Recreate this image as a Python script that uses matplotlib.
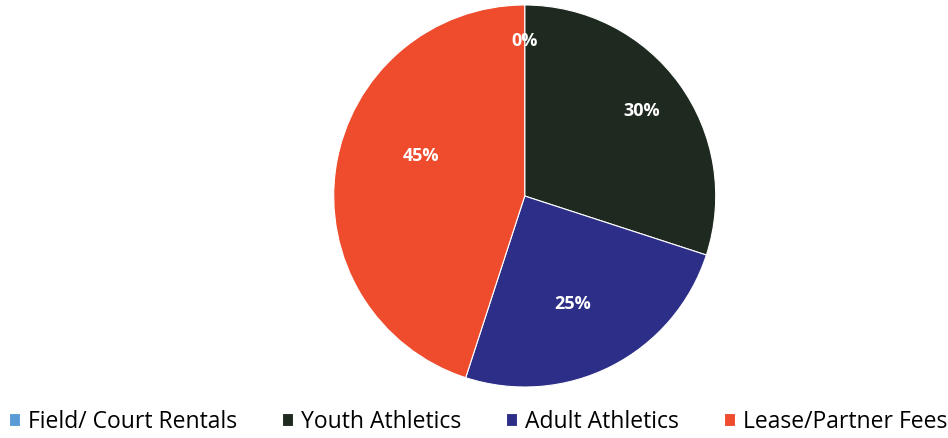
import matplotlib.pyplot as plt
import numpy as np

categories = ["Field/ Court Rentals", "Youth Athletics", "Adult Athletics", "Lease/Partner Fees"]
shares = [0.0, 30, 25, 45]
colors = ["#5b9bd5", "#1e291f", "#2c2e88", "#ef4b2d"]

# where each percentage label sits, as a fraction of the radius
label_dist = [0.81, 0.76, 0.62, 0.58]
label_shift = [0, 0, -3, -12]  # degrees

fig = plt.figure(figsize=(9.48, 4.38), dpi=100)
ax = fig.add_axes([0.350, 0.112, 0.407, 0.881])

wedges, texts, autotexts = ax.pie(
    shares, colors=colors, startangle=90, counterclock=False,
    autopct=lambda p: f"{p:.0f}%", pctdistance=0.7,
    wedgeprops=dict(edgecolor="white", linewidth=0.8),
    textprops=dict(color="white", fontsize=13, fontweight="bold", family="Open Sans"),
)

for w, t, d, s in zip(wedges, autotexts, label_dist, label_shift):
    ang = np.deg2rad((w.theta1 + w.theta2) / 2 + s)
    t.set_position((d * np.cos(ang), d * np.sin(ang)))
ax.set_xlim(-1.01, 1.01)
ax.set_ylim(-1.01, 1.01)
ax.set_aspect("equal")

fig.legend(wedges, categories, loc="lower left", bbox_to_anchor=(-0.012, -0.037), ncol=4,
           frameon=False, handlelength=0.48, handleheight=0.48, handletextpad=0.35,
           columnspacing=1.95, prop=dict(family="Open Sans", size=16.5))

plt.savefig("out.png")
